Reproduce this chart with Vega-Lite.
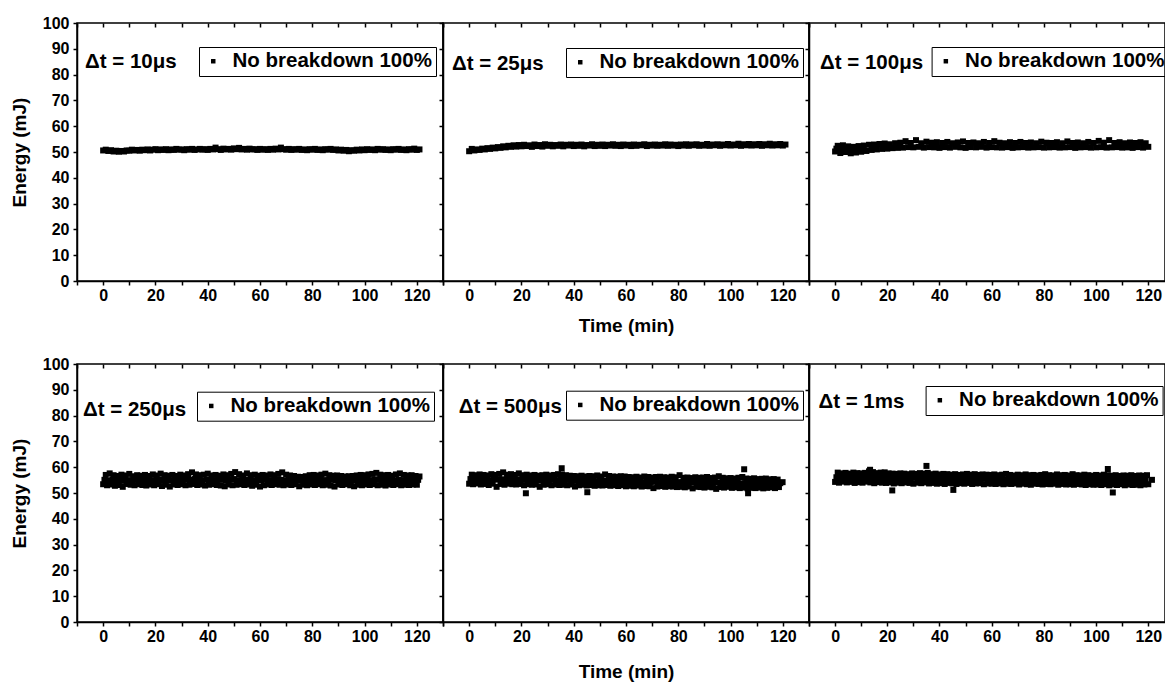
{
"$schema": "https://vega.github.io/schema/vega-lite/v6.json",
"padding": {"left": 9, "top": 14, "right": 0, "bottom": 0},
"spacing": 19,
"config": {
  "font": "Liberation Sans",
  "view": {"stroke": "black", "strokeWidth": 1.5},
  "axis": {"domainColor": "black", "domainWidth": 1.5, "tickColor": "black", "tickWidth": 1.5, "tickSize": 4, "labelFont": "Liberation Sans", "labelFontWeight": "bold", "labelFontSize": 16, "labelColor": "black", "titleFont": "Liberation Sans", "titleFontWeight": "bold", "titleFontSize": 19, "titleColor": "black", "grid": false},
  "legend": {"orient": "none", "strokeColor": "black", "padding": 4, "labelFont": "Liberation Sans", "labelFontWeight": "bold", "labelFontSize": 20.5, "labelColor": "black", "labelOffset": 9, "symbolOffset": 0, "symbolType": "square", "symbolSize": 20, "symbolFillColor": "black", "symbolStrokeWidth": 0, "labelLimit": 400, "title": null},
  "title": {"font": "Liberation Sans", "fontWeight": "bold", "fontSize": 20.5, "color": "black", "anchor": "start", "frame": "group", "orient": "top", "offset": 0, "baseline": "middle"}
},
"resolve": {"scale": {"color": "independent"}, "legend": {"color": "independent"}},
"datasets": {
"d1": [{"t":0,"e":50.6},{"t":1,"e":50.9},{"t":2,"e":50.4},{"t":3,"e":50.7},{"t":4,"e":50.2},{"t":5,"e":50.5},{"t":6,"e":50.1},{"t":7,"e":50.4},{"t":8,"e":50.2},{"t":9,"e":50.6},{"t":10,"e":50.5},{"t":11,"e":50.9},{"t":12,"e":50.6},{"t":13,"e":50.8},{"t":14,"e":50.5},{"t":15,"e":50.9},{"t":16,"e":50.7},{"t":17,"e":51.0},{"t":18,"e":50.6},{"t":19,"e":50.9},{"t":20,"e":51.1},{"t":21,"e":50.7},{"t":22,"e":51.0},{"t":23,"e":50.8},{"t":24,"e":51.1},{"t":25,"e":50.7},{"t":26,"e":51.0},{"t":27,"e":50.8},{"t":28,"e":51.2},{"t":29,"e":50.9},{"t":30,"e":51.0},{"t":31,"e":50.7},{"t":32,"e":51.1},{"t":33,"e":50.9},{"t":34,"e":51.2},{"t":35,"e":50.8},{"t":36,"e":51.0},{"t":37,"e":51.2},{"t":38,"e":50.9},{"t":39,"e":51.1},{"t":40,"e":50.8},{"t":41,"e":51.2},{"t":42,"e":51.0},{"t":43,"e":51.7},{"t":44,"e":51.1},{"t":45,"e":50.8},{"t":46,"e":51.3},{"t":47,"e":51.0},{"t":48,"e":51.2},{"t":49,"e":50.9},{"t":50,"e":51.4},{"t":51,"e":51.1},{"t":52,"e":51.6},{"t":53,"e":51.0},{"t":54,"e":51.2},{"t":55,"e":50.9},{"t":56,"e":51.3},{"t":57,"e":51.0},{"t":58,"e":51.1},{"t":59,"e":50.8},{"t":60,"e":51.2},{"t":61,"e":50.9},{"t":62,"e":51.1},{"t":63,"e":50.8},{"t":64,"e":51.2},{"t":65,"e":50.9},{"t":66,"e":51.3},{"t":67,"e":51.0},{"t":68,"e":51.7},{"t":69,"e":51.1},{"t":70,"e":50.9},{"t":71,"e":51.2},{"t":72,"e":50.8},{"t":73,"e":51.1},{"t":74,"e":50.9},{"t":75,"e":51.2},{"t":76,"e":50.8},{"t":77,"e":51.0},{"t":78,"e":50.7},{"t":79,"e":51.1},{"t":80,"e":50.9},{"t":81,"e":51.2},{"t":82,"e":50.8},{"t":83,"e":51.0},{"t":84,"e":50.7},{"t":85,"e":51.1},{"t":86,"e":50.9},{"t":87,"e":51.2},{"t":88,"e":50.8},{"t":89,"e":51.0},{"t":90,"e":50.6},{"t":91,"e":50.9},{"t":92,"e":50.5},{"t":93,"e":50.8},{"t":94,"e":50.3},{"t":95,"e":50.7},{"t":96,"e":50.5},{"t":97,"e":50.9},{"t":98,"e":50.6},{"t":99,"e":51.0},{"t":100,"e":50.7},{"t":101,"e":51.1},{"t":102,"e":50.8},{"t":103,"e":51.0},{"t":104,"e":50.7},{"t":105,"e":51.2},{"t":106,"e":50.9},{"t":107,"e":51.1},{"t":108,"e":50.8},{"t":109,"e":51.0},{"t":110,"e":50.7},{"t":111,"e":51.1},{"t":112,"e":50.9},{"t":113,"e":51.2},{"t":114,"e":50.8},{"t":115,"e":51.0},{"t":116,"e":50.7},{"t":117,"e":51.1},{"t":118,"e":50.9},{"t":119,"e":51.3},{"t":120,"e":50.8},{"t":121,"e":51.0}],
"d2": [{"t":0,"e":50.3},{"t":1,"e":51.2},{"t":2,"e":50.6},{"t":3,"e":51.0},{"t":4,"e":50.8},{"t":5,"e":51.3},{"t":6,"e":51.0},{"t":7,"e":51.5},{"t":8,"e":51.2},{"t":9,"e":51.7},{"t":10,"e":51.4},{"t":11,"e":51.9},{"t":12,"e":51.6},{"t":13,"e":52.2},{"t":14,"e":51.8},{"t":15,"e":52.4},{"t":16,"e":52.0},{"t":17,"e":52.6},{"t":18,"e":52.1},{"t":19,"e":52.7},{"t":20,"e":52.2},{"t":21,"e":52.8},{"t":22,"e":52.3},{"t":23,"e":52.6},{"t":24,"e":52.0},{"t":25,"e":52.9},{"t":26,"e":52.3},{"t":27,"e":52.7},{"t":28,"e":52.1},{"t":29,"e":53.0},{"t":30,"e":52.4},{"t":31,"e":52.8},{"t":32,"e":52.2},{"t":33,"e":52.7},{"t":34,"e":52.4},{"t":35,"e":52.9},{"t":36,"e":52.2},{"t":37,"e":52.8},{"t":38,"e":52.5},{"t":39,"e":52.9},{"t":40,"e":52.3},{"t":41,"e":52.8},{"t":42,"e":52.4},{"t":43,"e":52.9},{"t":44,"e":52.2},{"t":45,"e":52.7},{"t":46,"e":52.5},{"t":47,"e":53.0},{"t":48,"e":52.3},{"t":49,"e":52.8},{"t":50,"e":52.4},{"t":51,"e":52.9},{"t":52,"e":52.3},{"t":53,"e":52.8},{"t":54,"e":52.5},{"t":55,"e":53.0},{"t":56,"e":52.4},{"t":57,"e":52.8},{"t":58,"e":52.3},{"t":59,"e":52.9},{"t":60,"e":52.5},{"t":61,"e":52.8},{"t":62,"e":52.3},{"t":63,"e":52.9},{"t":64,"e":52.4},{"t":65,"e":52.8},{"t":66,"e":52.6},{"t":67,"e":53.0},{"t":68,"e":52.3},{"t":69,"e":52.8},{"t":70,"e":52.5},{"t":71,"e":52.9},{"t":72,"e":52.4},{"t":73,"e":52.8},{"t":74,"e":52.5},{"t":75,"e":53.0},{"t":76,"e":52.4},{"t":77,"e":52.9},{"t":78,"e":52.5},{"t":79,"e":52.8},{"t":80,"e":52.3},{"t":81,"e":52.9},{"t":82,"e":52.5},{"t":83,"e":53.0},{"t":84,"e":52.4},{"t":85,"e":52.9},{"t":86,"e":52.6},{"t":87,"e":53.0},{"t":88,"e":52.4},{"t":89,"e":52.8},{"t":90,"e":52.5},{"t":91,"e":53.1},{"t":92,"e":52.4},{"t":93,"e":52.9},{"t":94,"e":52.6},{"t":95,"e":53.0},{"t":96,"e":52.4},{"t":97,"e":52.9},{"t":98,"e":52.6},{"t":99,"e":53.1},{"t":100,"e":52.5},{"t":101,"e":52.9},{"t":102,"e":52.6},{"t":103,"e":53.2},{"t":104,"e":52.4},{"t":105,"e":53.0},{"t":106,"e":52.6},{"t":107,"e":53.1},{"t":108,"e":52.5},{"t":109,"e":53.0},{"t":110,"e":52.6},{"t":111,"e":53.1},{"t":112,"e":52.4},{"t":113,"e":53.0},{"t":114,"e":52.6},{"t":115,"e":53.2},{"t":116,"e":52.5},{"t":117,"e":53.0},{"t":118,"e":52.6},{"t":119,"e":53.1},{"t":120,"e":52.5},{"t":121,"e":52.9}],
"d3": [{"t":0,"e":50.2},{"t":0.5,"e":51.3},{"t":1,"e":52.4},{"t":2,"e":49.6},{"t":2.5,"e":51.1},{"t":3,"e":52.6},{"t":4,"e":50.0},{"t":4.5,"e":51.2},{"t":5,"e":52.2},{"t":6,"e":49.5},{"t":6.5,"e":50.9},{"t":7,"e":52.0},{"t":8,"e":49.8},{"t":8.5,"e":51.0},{"t":9,"e":52.3},{"t":10,"e":50.1},{"t":10.5,"e":51.3},{"t":11,"e":52.5},{"t":12,"e":50.4},{"t":13,"e":52.8},{"t":14,"e":50.8},{"t":15,"e":52.9},{"t":16,"e":51.0},{"t":17,"e":53.1},{"t":18,"e":51.2},{"t":19,"e":53.3},{"t":20,"e":51.3},{"t":21,"e":53.0},{"t":22,"e":51.5},{"t":23,"e":53.4},{"t":24,"e":51.6},{"t":25,"e":53.6},{"t":26,"e":51.7},{"t":27,"e":54.2},{"t":28,"e":51.9},{"t":29,"e":53.5},{"t":30,"e":51.8},{"t":31,"e":54.6},{"t":32,"e":52.0},{"t":33,"e":53.4},{"t":34,"e":51.7},{"t":35,"e":54.0},{"t":36,"e":51.9},{"t":37,"e":53.6},{"t":38,"e":51.8},{"t":39,"e":53.8},{"t":40,"e":51.6},{"t":41,"e":53.5},{"t":42,"e":51.9},{"t":43,"e":53.9},{"t":44,"e":51.7},{"t":45,"e":53.4},{"t":46,"e":52.0},{"t":47,"e":53.7},{"t":48,"e":51.8},{"t":49,"e":54.1},{"t":50,"e":51.6},{"t":51,"e":53.5},{"t":52,"e":51.9},{"t":53,"e":53.7},{"t":54,"e":51.8},{"t":55,"e":53.4},{"t":56,"e":52.0},{"t":57,"e":53.9},{"t":58,"e":51.7},{"t":59,"e":53.5},{"t":60,"e":51.9},{"t":61,"e":54.2},{"t":62,"e":51.8},{"t":63,"e":53.6},{"t":64,"e":51.7},{"t":65,"e":53.4},{"t":66,"e":51.9},{"t":67,"e":53.8},{"t":68,"e":51.6},{"t":69,"e":53.5},{"t":70,"e":51.8},{"t":71,"e":53.9},{"t":72,"e":51.9},{"t":73,"e":53.5},{"t":74,"e":51.7},{"t":75,"e":53.7},{"t":76,"e":51.8},{"t":77,"e":53.4},{"t":78,"e":51.9},{"t":79,"e":54.0},{"t":80,"e":51.7},{"t":81,"e":53.6},{"t":82,"e":51.8},{"t":83,"e":53.5},{"t":84,"e":51.9},{"t":85,"e":53.8},{"t":86,"e":51.7},{"t":87,"e":53.4},{"t":88,"e":51.8},{"t":89,"e":54.1},{"t":90,"e":51.9},{"t":91,"e":53.5},{"t":92,"e":51.6},{"t":93,"e":53.7},{"t":94,"e":51.8},{"t":95,"e":53.4},{"t":96,"e":51.9},{"t":97,"e":53.9},{"t":98,"e":51.7},{"t":99,"e":53.5},{"t":100,"e":51.8},{"t":101,"e":54.3},{"t":102,"e":51.9},{"t":103,"e":53.6},{"t":104,"e":51.7},{"t":105,"e":54.6},{"t":106,"e":51.8},{"t":107,"e":53.5},{"t":108,"e":51.9},{"t":109,"e":53.8},{"t":110,"e":51.7},{"t":111,"e":53.4},{"t":112,"e":51.8},{"t":113,"e":53.7},{"t":114,"e":51.6},{"t":115,"e":53.5},{"t":116,"e":51.9},{"t":117,"e":53.8},{"t":118,"e":51.7},{"t":119,"e":53.4},{"t":120,"e":52.0}],
"d4": [{"t":0,"e":53.4},{"t":0.5,"e":55.1},{"t":1,"e":57.0},{"t":1.5,"e":53.0},{"t":2,"e":54.8},{"t":2.5,"e":57.6},{"t":3,"e":53.3},{"t":3.5,"e":55.3},{"t":4,"e":56.9},{"t":4.5,"e":52.8},{"t":5,"e":54.9},{"t":5.5,"e":56.6},{"t":6,"e":53.1},{"t":6.5,"e":55.2},{"t":7,"e":57.1},{"t":7.5,"e":52.4},{"t":8,"e":54.7},{"t":8.5,"e":56.8},{"t":9,"e":53.5},{"t":9.5,"e":55.0},{"t":10,"e":57.4},{"t":10.5,"e":53.2},{"t":11,"e":54.6},{"t":11.5,"e":56.5},{"t":12,"e":53.0},{"t":12.5,"e":55.1},{"t":13,"e":56.9},{"t":13.5,"e":53.4},{"t":14,"e":54.8},{"t":14.5,"e":56.7},{"t":15,"e":53.1},{"t":15.5,"e":55.3},{"t":16,"e":57.0},{"t":16.5,"e":52.9},{"t":17,"e":54.9},{"t":17.5,"e":56.6},{"t":18,"e":53.3},{"t":18.5,"e":55.0},{"t":19,"e":57.2},{"t":19.5,"e":53.0},{"t":20,"e":54.7},{"t":20.5,"e":56.8},{"t":21,"e":53.4},{"t":21.5,"e":55.2},{"t":22,"e":57.5},{"t":22.5,"e":52.7},{"t":23,"e":54.9},{"t":23.5,"e":56.9},{"t":24,"e":53.2},{"t":24.5,"e":55.1},{"t":25,"e":56.7},{"t":25.5,"e":52.5},{"t":26,"e":54.8},{"t":26.5,"e":57.0},{"t":27,"e":53.3},{"t":27.5,"e":55.0},{"t":28,"e":56.6},{"t":28.5,"e":53.1},{"t":29,"e":55.2},{"t":29.5,"e":57.1},{"t":30,"e":53.4},{"t":30.5,"e":54.9},{"t":31,"e":56.8},{"t":31.5,"e":53.0},{"t":32,"e":55.3},{"t":32.5,"e":57.3},{"t":33,"e":53.2},{"t":33.5,"e":55.1},{"t":34,"e":58.0},{"t":34.5,"e":53.5},{"t":35,"e":55.4},{"t":35.5,"e":57.2},{"t":36,"e":53.1},{"t":36.5,"e":55.0},{"t":37,"e":56.9},{"t":37.5,"e":53.3},{"t":38,"e":54.8},{"t":38.5,"e":57.1},{"t":39,"e":52.9},{"t":39.5,"e":55.2},{"t":40,"e":57.5},{"t":40.5,"e":53.2},{"t":41,"e":55.0},{"t":41.5,"e":56.8},{"t":42,"e":53.4},{"t":42.5,"e":54.9},{"t":43,"e":57.0},{"t":43.5,"e":53.1},{"t":44,"e":55.3},{"t":44.5,"e":56.7},{"t":45,"e":52.9},{"t":45.5,"e":55.1},{"t":46,"e":57.2},{"t":46.5,"e":52.6},{"t":47,"e":54.8},{"t":47.5,"e":56.9},{"t":48,"e":53.3},{"t":48.5,"e":55.2},{"t":49,"e":57.4},{"t":49.5,"e":53.0},{"t":50,"e":55.4},{"t":50.5,"e":58.1},{"t":51,"e":53.2},{"t":51.5,"e":55.0},{"t":52,"e":57.3},{"t":52.5,"e":53.4},{"t":53,"e":54.9},{"t":53.5,"e":56.8},{"t":54,"e":53.1},{"t":54.5,"e":55.2},{"t":55,"e":57.6},{"t":55.5,"e":53.3},{"t":56,"e":55.0},{"t":56.5,"e":56.9},{"t":57,"e":52.8},{"t":57.5,"e":54.8},{"t":58,"e":57.1},{"t":58.5,"e":53.2},{"t":59,"e":55.1},{"t":59.5,"e":56.7},{"t":60,"e":52.5},{"t":60.5,"e":54.9},{"t":61,"e":57.0},{"t":61.5,"e":53.0},{"t":62,"e":55.2},{"t":62.5,"e":56.8},{"t":63,"e":53.3},{"t":63.5,"e":55.0},{"t":64,"e":57.2},{"t":64.5,"e":53.1},{"t":65,"e":54.8},{"t":65.5,"e":56.9},{"t":66,"e":53.4},{"t":66.5,"e":55.3},{"t":67,"e":57.4},{"t":67.5,"e":53.2},{"t":68,"e":55.1},{"t":68.5,"e":58.0},{"t":69,"e":53.0},{"t":69.5,"e":54.9},{"t":70,"e":57.1},{"t":70.5,"e":53.3},{"t":71,"e":55.2},{"t":71.5,"e":56.8},{"t":72,"e":53.1},{"t":72.5,"e":54.7},{"t":73,"e":56.6},{"t":73.5,"e":53.4},{"t":74,"e":54.9},{"t":74.5,"e":56.3},{"t":75,"e":52.6},{"t":75.5,"e":54.8},{"t":76,"e":56.2},{"t":76.5,"e":53.2},{"t":77,"e":55.0},{"t":77.5,"e":56.5},{"t":78,"e":53.0},{"t":78.5,"e":54.8},{"t":79,"e":56.9},{"t":79.5,"e":53.3},{"t":80,"e":55.1},{"t":80.5,"e":57.0},{"t":81,"e":53.1},{"t":81.5,"e":54.9},{"t":82,"e":56.8},{"t":82.5,"e":53.4},{"t":83,"e":55.2},{"t":83.5,"e":57.1},{"t":84,"e":53.0},{"t":84.5,"e":55.0},{"t":85,"e":57.5},{"t":85.5,"e":53.2},{"t":86,"e":54.8},{"t":86.5,"e":56.9},{"t":87,"e":52.9},{"t":87.5,"e":55.1},{"t":88,"e":56.7},{"t":88.5,"e":52.5},{"t":89,"e":54.9},{"t":89.5,"e":56.8},{"t":90,"e":53.3},{"t":90.5,"e":55.0},{"t":91,"e":56.6},{"t":91.5,"e":53.1},{"t":92,"e":54.8},{"t":92.5,"e":56.4},{"t":93,"e":53.4},{"t":93.5,"e":54.9},{"t":94,"e":56.5},{"t":94.5,"e":53.0},{"t":95,"e":54.7},{"t":95.5,"e":56.6},{"t":96,"e":52.6},{"t":96.5,"e":55.0},{"t":97,"e":56.8},{"t":97.5,"e":53.2},{"t":98,"e":55.1},{"t":98.5,"e":57.0},{"t":99,"e":53.0},{"t":99.5,"e":54.9},{"t":100,"e":56.9},{"t":100.5,"e":53.3},{"t":101,"e":55.2},{"t":101.5,"e":57.2},{"t":102,"e":53.1},{"t":102.5,"e":55.0},{"t":103,"e":57.4},{"t":103.5,"e":53.4},{"t":104,"e":55.3},{"t":104.5,"e":57.8},{"t":105,"e":53.0},{"t":105.5,"e":55.1},{"t":106,"e":57.1},{"t":106.5,"e":53.2},{"t":107,"e":54.8},{"t":107.5,"e":56.9},{"t":108,"e":52.9},{"t":108.5,"e":55.0},{"t":109,"e":57.0},{"t":109.5,"e":53.3},{"t":110,"e":55.2},{"t":110.5,"e":56.7},{"t":111,"e":53.1},{"t":111.5,"e":54.9},{"t":112,"e":57.2},{"t":112.5,"e":53.4},{"t":113,"e":55.1},{"t":113.5,"e":57.6},{"t":114,"e":53.0},{"t":114.5,"e":54.8},{"t":115,"e":57.0},{"t":115.5,"e":53.2},{"t":116,"e":55.0},{"t":116.5,"e":56.8},{"t":117,"e":53.1},{"t":117.5,"e":55.2},{"t":118,"e":56.9},{"t":118.5,"e":53.3},{"t":119,"e":55.0},{"t":119.5,"e":56.6},{"t":120,"e":53.2},{"t":120.5,"e":55.1},{"t":121,"e":56.4}],
"d5": [{"t":0,"e":53.6},{"t":0.5,"e":55.4},{"t":1,"e":57.1},{"t":1.5,"e":53.4},{"t":2,"e":55.2},{"t":2.5,"e":56.9},{"t":3,"e":53.7},{"t":3.5,"e":55.5},{"t":4,"e":57.2},{"t":4.5,"e":53.3},{"t":5,"e":55.1},{"t":5.5,"e":57.0},{"t":6,"e":53.5},{"t":6.5,"e":55.3},{"t":7,"e":56.8},{"t":7.5,"e":53.1},{"t":8,"e":55.0},{"t":8.5,"e":57.3},{"t":9,"e":53.6},{"t":9.5,"e":55.4},{"t":10,"e":57.0},{"t":10.5,"e":52.4},{"t":11,"e":55.2},{"t":11.5,"e":57.4},{"t":12,"e":53.5},{"t":12.5,"e":55.3},{"t":13,"e":58.0},{"t":13.5,"e":53.2},{"t":14,"e":55.1},{"t":14.5,"e":57.1},{"t":15,"e":53.6},{"t":15.5,"e":55.4},{"t":16,"e":57.3},{"t":16.5,"e":53.4},{"t":17,"e":55.0},{"t":17.5,"e":57.0},{"t":18,"e":53.3},{"t":18.5,"e":55.2},{"t":19,"e":57.6},{"t":19.5,"e":53.5},{"t":20,"e":55.3},{"t":20.5,"e":56.9},{"t":21,"e":53.0},{"t":21.5,"e":55.1},{"t":22,"e":57.1},{"t":22.5,"e":53.4},{"t":23,"e":54.9},{"t":23.5,"e":56.8},{"t":24,"e":53.2},{"t":24.5,"e":55.2},{"t":25,"e":57.0},{"t":25.5,"e":53.3},{"t":26,"e":55.0},{"t":26.5,"e":56.7},{"t":27,"e":52.4},{"t":27.5,"e":54.8},{"t":28,"e":56.9},{"t":28.5,"e":53.2},{"t":29,"e":55.1},{"t":29.5,"e":57.1},{"t":30,"e":53.4},{"t":30.5,"e":54.9},{"t":31,"e":56.8},{"t":31.5,"e":53.0},{"t":32,"e":55.2},{"t":32.5,"e":57.0},{"t":33,"e":53.3},{"t":33.5,"e":55.0},{"t":34,"e":57.3},{"t":34.5,"e":53.1},{"t":35,"e":55.4},{"t":35.5,"e":57.2},{"t":36,"e":53.2},{"t":36.5,"e":54.9},{"t":37,"e":56.9},{"t":37.5,"e":53.0},{"t":38,"e":55.1},{"t":38.5,"e":56.7},{"t":39,"e":53.3},{"t":39.5,"e":54.8},{"t":40,"e":56.6},{"t":40.5,"e":52.5},{"t":41,"e":54.7},{"t":41.5,"e":56.5},{"t":42,"e":53.0},{"t":42.5,"e":54.8},{"t":43,"e":56.7},{"t":43.5,"e":53.2},{"t":44,"e":54.6},{"t":44.5,"e":56.4},{"t":45,"e":52.9},{"t":45.5,"e":54.7},{"t":46,"e":56.6},{"t":46.5,"e":53.1},{"t":47,"e":54.9},{"t":47.5,"e":56.5},{"t":48,"e":52.8},{"t":48.5,"e":54.6},{"t":49,"e":56.8},{"t":49.5,"e":53.0},{"t":50,"e":54.7},{"t":50.5,"e":56.4},{"t":51,"e":52.9},{"t":51.5,"e":54.8},{"t":52,"e":57.2},{"t":52.5,"e":53.1},{"t":53,"e":54.6},{"t":53.5,"e":56.6},{"t":54,"e":52.8},{"t":54.5,"e":54.7},{"t":55,"e":56.4},{"t":55.5,"e":53.0},{"t":56,"e":54.5},{"t":56.5,"e":56.3},{"t":57,"e":52.7},{"t":57.5,"e":54.8},{"t":58,"e":56.5},{"t":58.5,"e":53.0},{"t":59,"e":54.6},{"t":59.5,"e":56.4},{"t":60,"e":52.6},{"t":60.5,"e":54.4},{"t":61,"e":56.2},{"t":61.5,"e":52.8},{"t":62,"e":54.5},{"t":62.5,"e":56.1},{"t":63,"e":52.6},{"t":63.5,"e":54.3},{"t":64,"e":56.3},{"t":64.5,"e":52.9},{"t":65,"e":54.4},{"t":65.5,"e":56.0},{"t":66,"e":52.5},{"t":66.5,"e":54.2},{"t":67,"e":56.4},{"t":67.5,"e":52.7},{"t":68,"e":54.5},{"t":68.5,"e":56.2},{"t":69,"e":52.6},{"t":69.5,"e":54.3},{"t":70,"e":56.0},{"t":70.5,"e":51.9},{"t":71,"e":54.4},{"t":71.5,"e":56.2},{"t":72,"e":52.5},{"t":72.5,"e":54.2},{"t":73,"e":56.3},{"t":73.5,"e":52.7},{"t":74,"e":54.4},{"t":74.5,"e":56.1},{"t":75,"e":52.4},{"t":75.5,"e":54.3},{"t":76,"e":56.0},{"t":76.5,"e":52.6},{"t":77,"e":54.2},{"t":77.5,"e":56.3},{"t":78,"e":52.5},{"t":78.5,"e":54.4},{"t":79,"e":56.1},{"t":79.5,"e":52.3},{"t":80,"e":54.2},{"t":80.5,"e":56.9},{"t":81,"e":52.4},{"t":81.5,"e":54.1},{"t":82,"e":55.9},{"t":82.5,"e":52.2},{"t":83,"e":54.0},{"t":83.5,"e":56.0},{"t":84,"e":52.5},{"t":84.5,"e":54.2},{"t":85,"e":55.8},{"t":85.5,"e":51.8},{"t":86,"e":54.1},{"t":86.5,"e":56.1},{"t":87,"e":52.4},{"t":87.5,"e":53.9},{"t":88,"e":55.9},{"t":88.5,"e":52.3},{"t":89,"e":54.2},{"t":89.5,"e":56.0},{"t":90,"e":52.1},{"t":90.5,"e":54.0},{"t":91,"e":56.2},{"t":91.5,"e":52.4},{"t":92,"e":54.1},{"t":92.5,"e":55.8},{"t":93,"e":52.2},{"t":93.5,"e":53.9},{"t":94,"e":56.0},{"t":94.5,"e":51.6},{"t":95,"e":54.1},{"t":95.5,"e":56.5},{"t":96,"e":52.3},{"t":96.5,"e":54.0},{"t":97,"e":55.9},{"t":97.5,"e":52.1},{"t":98,"e":53.8},{"t":98.5,"e":55.7},{"t":99,"e":52.4},{"t":99.5,"e":54.0},{"t":100,"e":55.8},{"t":100.5,"e":52.0},{"t":101,"e":53.8},{"t":101.5,"e":55.6},{"t":102,"e":52.2},{"t":102.5,"e":53.9},{"t":103,"e":55.9},{"t":103.5,"e":51.9},{"t":104,"e":53.7},{"t":104.5,"e":56.2},{"t":105,"e":52.1},{"t":105.5,"e":53.8},{"t":106,"e":55.6},{"t":106.5,"e":51.8},{"t":107,"e":53.6},{"t":107.5,"e":55.5},{"t":108,"e":52.0},{"t":108.5,"e":53.8},{"t":109,"e":55.7},{"t":109.5,"e":51.9},{"t":110,"e":53.7},{"t":110.5,"e":55.4},{"t":111,"e":52.1},{"t":111.5,"e":53.6},{"t":112,"e":55.5},{"t":112.5,"e":51.8},{"t":113,"e":53.7},{"t":113.5,"e":55.6},{"t":114,"e":52.0},{"t":114.5,"e":53.8},{"t":115,"e":55.3},{"t":115.5,"e":52.2},{"t":116,"e":53.6},{"t":116.5,"e":55.4},{"t":117,"e":51.9},{"t":117.5,"e":53.7},{"t":118,"e":55.2},{"t":118.5,"e":52.3},{"t":119,"e":53.8},{"t":21.7,"e":49.9},{"t":35.4,"e":59.6},{"t":45.2,"e":50.3},{"t":105.2,"e":59.2},{"t":106.7,"e":49.9},{"t":119.9,"e":54.2}],
"d6": [{"t":0,"e":54.3},{"t":0.5,"e":56.1},{"t":1,"e":57.9},{"t":1.5,"e":54.0},{"t":2,"e":55.9},{"t":2.5,"e":57.6},{"t":3,"e":54.4},{"t":3.5,"e":56.2},{"t":4,"e":57.8},{"t":4.5,"e":54.1},{"t":5,"e":55.8},{"t":5.5,"e":57.5},{"t":6,"e":54.3},{"t":6.5,"e":56.0},{"t":7,"e":57.9},{"t":7.5,"e":53.9},{"t":8,"e":56.2},{"t":8.5,"e":57.7},{"t":9,"e":54.2},{"t":9.5,"e":55.9},{"t":10,"e":57.6},{"t":10.5,"e":54.0},{"t":11,"e":56.1},{"t":11.5,"e":57.8},{"t":12,"e":54.4},{"t":12.5,"e":56.3},{"t":13,"e":58.4},{"t":13.5,"e":54.1},{"t":14,"e":56.0},{"t":14.5,"e":58.1},{"t":15,"e":53.8},{"t":15.5,"e":55.8},{"t":16,"e":57.7},{"t":16.5,"e":54.2},{"t":17,"e":56.1},{"t":17.5,"e":57.9},{"t":18,"e":54.0},{"t":18.5,"e":55.9},{"t":19,"e":58.0},{"t":19.5,"e":53.9},{"t":20,"e":55.8},{"t":20.5,"e":57.6},{"t":21,"e":54.1},{"t":21.5,"e":56.0},{"t":22,"e":57.5},{"t":22.5,"e":53.7},{"t":23,"e":55.7},{"t":23.5,"e":57.4},{"t":24,"e":54.0},{"t":24.5,"e":55.9},{"t":25,"e":57.6},{"t":25.5,"e":53.8},{"t":26,"e":55.6},{"t":26.5,"e":57.5},{"t":27,"e":54.1},{"t":27.5,"e":55.8},{"t":28,"e":57.3},{"t":28.5,"e":53.9},{"t":29,"e":55.7},{"t":29.5,"e":57.6},{"t":30,"e":53.6},{"t":30.5,"e":55.9},{"t":31,"e":57.4},{"t":31.5,"e":54.0},{"t":32,"e":55.8},{"t":32.5,"e":57.7},{"t":33,"e":53.8},{"t":33.5,"e":55.6},{"t":34,"e":57.5},{"t":34.5,"e":54.1},{"t":35,"e":55.9},{"t":35.5,"e":57.8},{"t":36,"e":53.7},{"t":36.5,"e":55.7},{"t":37,"e":57.3},{"t":37.5,"e":53.9},{"t":38,"e":55.8},{"t":38.5,"e":57.5},{"t":39,"e":53.6},{"t":39.5,"e":55.6},{"t":40,"e":57.2},{"t":40.5,"e":53.8},{"t":41,"e":55.5},{"t":41.5,"e":57.4},{"t":42,"e":53.5},{"t":42.5,"e":55.7},{"t":43,"e":57.3},{"t":43.5,"e":53.9},{"t":44,"e":55.6},{"t":44.5,"e":57.1},{"t":45,"e":53.7},{"t":45.5,"e":55.4},{"t":46,"e":57.3},{"t":46.5,"e":53.5},{"t":47,"e":55.6},{"t":47.5,"e":57.0},{"t":48,"e":53.8},{"t":48.5,"e":55.5},{"t":49,"e":57.2},{"t":49.5,"e":53.6},{"t":50,"e":55.7},{"t":50.5,"e":57.4},{"t":51,"e":53.9},{"t":51.5,"e":55.5},{"t":52,"e":57.1},{"t":52.5,"e":53.5},{"t":53,"e":55.6},{"t":53.5,"e":57.3},{"t":54,"e":53.7},{"t":54.5,"e":55.4},{"t":55,"e":57.0},{"t":55.5,"e":53.8},{"t":56,"e":55.6},{"t":56.5,"e":57.2},{"t":57,"e":53.4},{"t":57.5,"e":55.5},{"t":58,"e":57.1},{"t":58.5,"e":53.7},{"t":59,"e":55.3},{"t":59.5,"e":57.0},{"t":60,"e":53.6},{"t":60.5,"e":55.4},{"t":61,"e":57.2},{"t":61.5,"e":53.5},{"t":62,"e":55.3},{"t":62.5,"e":56.9},{"t":63,"e":53.7},{"t":63.5,"e":55.5},{"t":64,"e":57.1},{"t":64.5,"e":53.4},{"t":65,"e":55.2},{"t":65.5,"e":57.4},{"t":66,"e":53.6},{"t":66.5,"e":55.4},{"t":67,"e":57.0},{"t":67.5,"e":53.5},{"t":68,"e":55.3},{"t":68.5,"e":56.8},{"t":69,"e":53.7},{"t":69.5,"e":55.5},{"t":70,"e":57.1},{"t":70.5,"e":53.3},{"t":71,"e":55.2},{"t":71.5,"e":56.9},{"t":72,"e":53.6},{"t":72.5,"e":55.4},{"t":73,"e":57.2},{"t":73.5,"e":53.4},{"t":74,"e":55.3},{"t":74.5,"e":56.9},{"t":75,"e":53.2},{"t":75.5,"e":55.1},{"t":76,"e":57.0},{"t":76.5,"e":53.6},{"t":77,"e":55.4},{"t":77.5,"e":56.8},{"t":78,"e":53.5},{"t":78.5,"e":55.3},{"t":79,"e":57.0},{"t":79.5,"e":53.3},{"t":80,"e":55.2},{"t":80.5,"e":57.3},{"t":81,"e":53.5},{"t":81.5,"e":55.4},{"t":82,"e":56.9},{"t":82.5,"e":53.4},{"t":83,"e":55.1},{"t":83.5,"e":56.8},{"t":84,"e":53.6},{"t":84.5,"e":55.3},{"t":85,"e":57.2},{"t":85.5,"e":53.2},{"t":86,"e":55.2},{"t":86.5,"e":56.9},{"t":87,"e":53.5},{"t":87.5,"e":55.4},{"t":88,"e":57.0},{"t":88.5,"e":53.3},{"t":89,"e":55.1},{"t":89.5,"e":56.8},{"t":90,"e":53.4},{"t":90.5,"e":55.3},{"t":91,"e":57.3},{"t":91.5,"e":53.2},{"t":92,"e":55.2},{"t":92.5,"e":56.9},{"t":93,"e":53.5},{"t":93.5,"e":55.0},{"t":94,"e":56.8},{"t":94.5,"e":53.3},{"t":95,"e":55.3},{"t":95.5,"e":57.1},{"t":96,"e":53.1},{"t":96.5,"e":55.2},{"t":97,"e":56.9},{"t":97.5,"e":53.4},{"t":98,"e":55.1},{"t":98.5,"e":56.7},{"t":99,"e":53.2},{"t":99.5,"e":55.3},{"t":100,"e":57.0},{"t":100.5,"e":53.3},{"t":101,"e":55.0},{"t":101.5,"e":56.8},{"t":102,"e":53.1},{"t":102.5,"e":55.2},{"t":103,"e":57.1},{"t":103.5,"e":53.4},{"t":104,"e":55.1},{"t":104.5,"e":56.9},{"t":105,"e":53.0},{"t":105.5,"e":55.0},{"t":106,"e":56.7},{"t":106.5,"e":53.3},{"t":107,"e":55.2},{"t":107.5,"e":56.9},{"t":108,"e":53.1},{"t":108.5,"e":54.9},{"t":109,"e":56.6},{"t":109.5,"e":53.4},{"t":110,"e":55.1},{"t":110.5,"e":56.8},{"t":111,"e":53.0},{"t":111.5,"e":55.0},{"t":112,"e":56.7},{"t":112.5,"e":53.3},{"t":113,"e":55.2},{"t":113.5,"e":56.9},{"t":114,"e":53.1},{"t":114.5,"e":54.9},{"t":115,"e":56.6},{"t":115.5,"e":53.2},{"t":116,"e":55.1},{"t":116.5,"e":56.8},{"t":117,"e":53.0},{"t":117.5,"e":55.0},{"t":118,"e":56.7},{"t":118.5,"e":53.3},{"t":119,"e":55.2},{"t":119.5,"e":56.9},{"t":120,"e":53.4},{"t":13.4,"e":59.0},{"t":21.9,"e":51.0},{"t":35.0,"e":60.5},{"t":45.3,"e":51.2},{"t":104.5,"e":59.3},{"t":106.4,"e":50.2},{"t":121.4,"e":55.1}]
},
"vconcat": [
 {"hconcat": [
  {"width": 366, "height": 258, "data": {"name": "d1"},
   "title": {"text": "Δt = 10μs", "dx": 8, "dy": 61.7},
   "layer": [
    {"mark": {"type": "point", "shape": "square", "filled": true, "size": 36, "opacity": 1},
     "encoding": {
      "x": {"field": "t", "type": "quantitative", "scale": {"domain": [-10, 130], "nice": false, "zero": false}, "axis": {"values": [-10,0,10,20,30,40,50,60,70,80,90,100,110,120,130], "labelExpr": "datum.value >= 0 && datum.value % 20 == 0 && datum.value <= 120 ? datum.label : ''", "labelPadding": 2, "labelFlush": false, "labelOverlap": false, "title": null}},
      "y": {"field": "e", "type": "quantitative", "scale": {"domain": [0, 100], "nice": false}, "axis": {"values": [0,10,20,30,40,50,60,70,80,90,100], "labelPadding": 4, "title": "Energy (mJ)", "titlePadding": 13}},
      "color": {"datum": "No breakdown 100%", "type": "nominal", "scale": {"range": ["black"]}, "legend": {"legendX": 122, "legendY": 24}}
     }},
    {"mark": {"type": "point", "opacity": 0},
     "encoding": {
      "x": {"field": "t", "type": "quantitative", "axis": {"orient": "top", "values": [-10,0,10,20,30,40,50,60,70,80,90,100,110,120,130], "labels": false, "domain": false, "tickSize": 4, "offset": -4, "title": null}}
     }}
   ],
   "resolve": {"axis": {"x": "independent"}}},
  {"width": 366, "height": 258, "data": {"name": "d2"},
   "title": {"text": "Δt = 25μs", "dx": 9, "dy": 55.9},
   "layer": [
    {"mark": {"type": "point", "shape": "square", "filled": true, "size": 36, "opacity": 1},
     "encoding": {
      "x": {"field": "t", "type": "quantitative", "scale": {"domain": [-10, 130], "nice": false, "zero": false}, "axis": {"values": [-10,0,10,20,30,40,50,60,70,80,90,100,110,120,130], "labelExpr": "datum.value >= 0 && datum.value % 20 == 0 && datum.value <= 120 ? datum.label : ''", "labelPadding": 2, "labelFlush": false, "labelOverlap": false, "title": "Time (min)", "titlePadding": 13}},
      "y": {"field": "e", "type": "quantitative", "scale": {"domain": [0, 100], "nice": false}, "axis": {"values": [0,10,20,30,40,50,60,70,80,90,100], "labels": false, "title": null}},
      "color": {"datum": "No breakdown 100%", "type": "nominal", "scale": {"range": ["black"]}, "legend": {"legendX": 123, "legendY": 25}}
     }},
    {"mark": {"type": "point", "opacity": 0},
     "encoding": {
      "x": {"field": "t", "type": "quantitative", "axis": {"orient": "top", "values": [-10,0,10,20,30,40,50,60,70,80,90,100,110,120,130], "labels": false, "domain": false, "tickSize": 4, "offset": -4, "title": null}}
     }}
   ],
   "resolve": {"axis": {"x": "independent"}}},
  {"width": 356, "height": 258, "data": {"name": "d3"},
   "title": {"text": "Δt = 100μs", "dx": 11, "dy": 55.6},
   "layer": [
    {"mark": {"type": "point", "shape": "square", "filled": true, "size": 36, "opacity": 1},
     "encoding": {
      "x": {"field": "t", "type": "quantitative", "scale": {"domain": [-10, 126.4], "nice": false, "zero": false}, "axis": {"values": [-10,0,10,20,30,40,50,60,70,80,90,100,110,120], "labelExpr": "datum.value >= 0 && datum.value % 20 == 0 && datum.value <= 120 ? datum.label : ''", "labelPadding": 2, "labelFlush": false, "labelOverlap": false, "title": null}},
      "y": {"field": "e", "type": "quantitative", "scale": {"domain": [0, 100], "nice": false}, "axis": {"values": [0,10,20,30,40,50,60,70,80,90,100], "labels": false, "title": null}},
      "color": {"datum": "No breakdown 100%", "type": "nominal", "scale": {"range": ["black"]}, "legend": {"legendX": 122.6, "legendY": 24}}
     }},
    {"mark": {"type": "point", "opacity": 0},
     "encoding": {
      "x": {"field": "t", "type": "quantitative", "axis": {"orient": "top", "values": [-10,0,10,20,30,40,50,60,70,80,90,100,110,120], "labels": false, "domain": false, "tickSize": 4, "offset": -4, "title": null}}
     }}
   ],
   "resolve": {"axis": {"x": "independent"}}}
 ], "spacing": 0, "bounds": "flush", "resolve": {"scale": {"color": "independent"}, "legend": {"color": "independent"}}},
 {"hconcat": [
  {"width": 366, "height": 258, "data": {"name": "d4"},
   "title": {"text": "Δt = 250μs", "dx": 6, "dy": 68.8},
   "layer": [
    {"mark": {"type": "point", "shape": "square", "filled": true, "size": 36, "opacity": 1},
     "encoding": {
      "x": {"field": "t", "type": "quantitative", "scale": {"domain": [-10, 130], "nice": false, "zero": false}, "axis": {"values": [-10,0,10,20,30,40,50,60,70,80,90,100,110,120,130], "labelExpr": "datum.value >= 0 && datum.value % 20 == 0 && datum.value <= 120 ? datum.label : ''", "labelPadding": 2, "labelFlush": false, "labelOverlap": false, "title": null}},
      "y": {"field": "e", "type": "quantitative", "scale": {"domain": [0, 100], "nice": false}, "axis": {"values": [0,10,20,30,40,50,60,70,80,90,100], "labelPadding": 4, "title": "Energy (mJ)", "titlePadding": 13}},
      "color": {"datum": "No breakdown 100%", "type": "nominal", "scale": {"range": ["black"]}, "legend": {"legendX": 120, "legendY": 27.7}}
     }},
    {"mark": {"type": "point", "opacity": 0},
     "encoding": {
      "x": {"field": "t", "type": "quantitative", "axis": {"orient": "top", "values": [-10,0,10,20,30,40,50,60,70,80,90,100,110,120,130], "labels": false, "domain": false, "tickSize": 4, "offset": -4, "title": null}}
     }}
   ],
   "resolve": {"axis": {"x": "independent"}}},
  {"width": 366, "height": 258, "data": {"name": "d5"},
   "title": {"text": "Δt = 500μs", "dx": 15.8, "dy": 58},
   "layer": [
    {"mark": {"type": "point", "shape": "square", "filled": true, "size": 36, "opacity": 1},
     "encoding": {
      "x": {"field": "t", "type": "quantitative", "scale": {"domain": [-10, 130], "nice": false, "zero": false}, "axis": {"values": [-10,0,10,20,30,40,50,60,70,80,90,100,110,120,130], "labelExpr": "datum.value >= 0 && datum.value % 20 == 0 && datum.value <= 120 ? datum.label : ''", "labelPadding": 2, "labelFlush": false, "labelOverlap": false, "title": "Time (min)", "titlePadding": 18}},
      "y": {"field": "e", "type": "quantitative", "scale": {"domain": [0, 100], "nice": false}, "axis": {"values": [0,10,20,30,40,50,60,70,80,90,100], "labels": false, "title": null}},
      "color": {"datum": "No breakdown 100%", "type": "nominal", "scale": {"range": ["black"]}, "legend": {"legendX": 123, "legendY": 26.7}}
     }},
    {"mark": {"type": "point", "opacity": 0},
     "encoding": {
      "x": {"field": "t", "type": "quantitative", "axis": {"orient": "top", "values": [-10,0,10,20,30,40,50,60,70,80,90,100,110,120,130], "labels": false, "domain": false, "tickSize": 4, "offset": -4, "title": null}}
     }}
   ],
   "resolve": {"axis": {"x": "independent"}}},
  {"width": 356, "height": 258, "data": {"name": "d6"},
   "title": {"text": "Δt = 1ms", "dx": 9.4, "dy": 53},
   "layer": [
    {"mark": {"type": "point", "shape": "square", "filled": true, "size": 36, "opacity": 1},
     "encoding": {
      "x": {"field": "t", "type": "quantitative", "scale": {"domain": [-10, 126.4], "nice": false, "zero": false}, "axis": {"values": [-10,0,10,20,30,40,50,60,70,80,90,100,110,120], "labelExpr": "datum.value >= 0 && datum.value % 20 == 0 && datum.value <= 120 ? datum.label : ''", "labelPadding": 2, "labelFlush": false, "labelOverlap": false, "title": null}},
      "y": {"field": "e", "type": "quantitative", "scale": {"domain": [0, 100], "nice": false}, "axis": {"values": [0,10,20,30,40,50,60,70,80,90,100], "labels": false, "title": null}},
      "color": {"datum": "No breakdown 100%", "type": "nominal", "scale": {"range": ["black"]}, "legend": {"legendX": 116.6, "legendY": 22}}
     }},
    {"mark": {"type": "point", "opacity": 0},
     "encoding": {
      "x": {"field": "t", "type": "quantitative", "axis": {"orient": "top", "values": [-10,0,10,20,30,40,50,60,70,80,90,100,110,120], "labels": false, "domain": false, "tickSize": 4, "offset": -4, "title": null}}
     }}
   ],
   "resolve": {"axis": {"x": "independent"}}}
 ], "spacing": 0, "bounds": "flush", "resolve": {"scale": {"color": "independent"}, "legend": {"color": "independent"}}}
]
}
